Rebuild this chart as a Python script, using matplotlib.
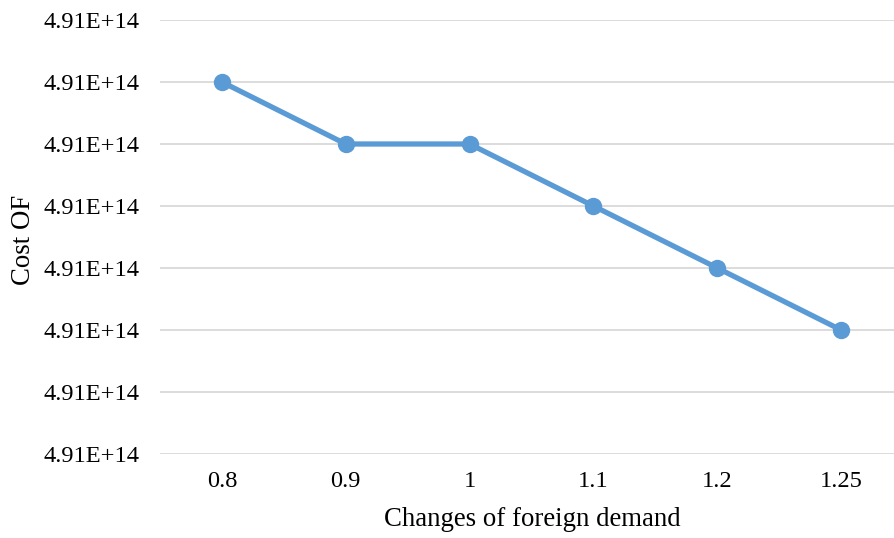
import matplotlib
matplotlib.use("Agg")
import matplotlib.pyplot as plt
from matplotlib.ticker import FuncFormatter

categories = ["0.8", "0.9", "1", "1.1", "1.2", "1.25"]
cost_of = [4.91012e14, 4.91010e14, 4.91010e14, 4.91008e14, 4.91006e14, 4.91004e14]
y_ticks = [4.91000e14, 4.91002e14, 4.91004e14, 4.91006e14, 4.91008e14,
           4.91010e14, 4.91012e14, 4.91014e14]

plt.rcParams['font.family'] = ['Liberation Serif', 'DejaVu Serif']

fig = plt.figure(figsize=(8.94, 5.38), dpi=100)
W, H = 894, 538
left, right, top, bottom = 160, 903, 20, 454
ax = fig.add_axes([left / W, 1 - bottom / H, (right - left) / W, (bottom - top) / H])

x = list(range(len(categories)))
ax.plot(x, cost_of, color="#5B9BD5", linewidth=3.8, marker="o", markersize=11.5,
        solid_capstyle="round", zorder=3)

ax.set_xlim(-0.5, len(categories) - 0.5)
ax.set_ylim(y_ticks[0], y_ticks[-1])
ax.set_yticks(y_ticks)
ax.yaxis.set_major_formatter(FuncFormatter(lambda v, p: "%.2fE+14" % (v / 1e14)))
ax.set_xticks(x)
ax.set_xticklabels(categories)

ax.grid(axis="y", color="#D9D9D9", linewidth=1.3)
ax.set_axisbelow(True)
for s in ax.spines.values():
    s.set_visible(False)
ax.tick_params(axis="both", length=0, labelsize=17.6, colors="black")
ax.tick_params(axis="y", pad=15)
ax.tick_params(axis="x", pad=12)

fig.text(24 / W, 1 - 240 / H, "Cost OF", rotation=90, ha="center", va="center", fontsize=19.3)
fig.text(532 / W, 1 - 520 / H, "Changes of foreign demand", ha="center", va="center", fontsize=19.3)

fig.savefig("out.png", dpi=100)
